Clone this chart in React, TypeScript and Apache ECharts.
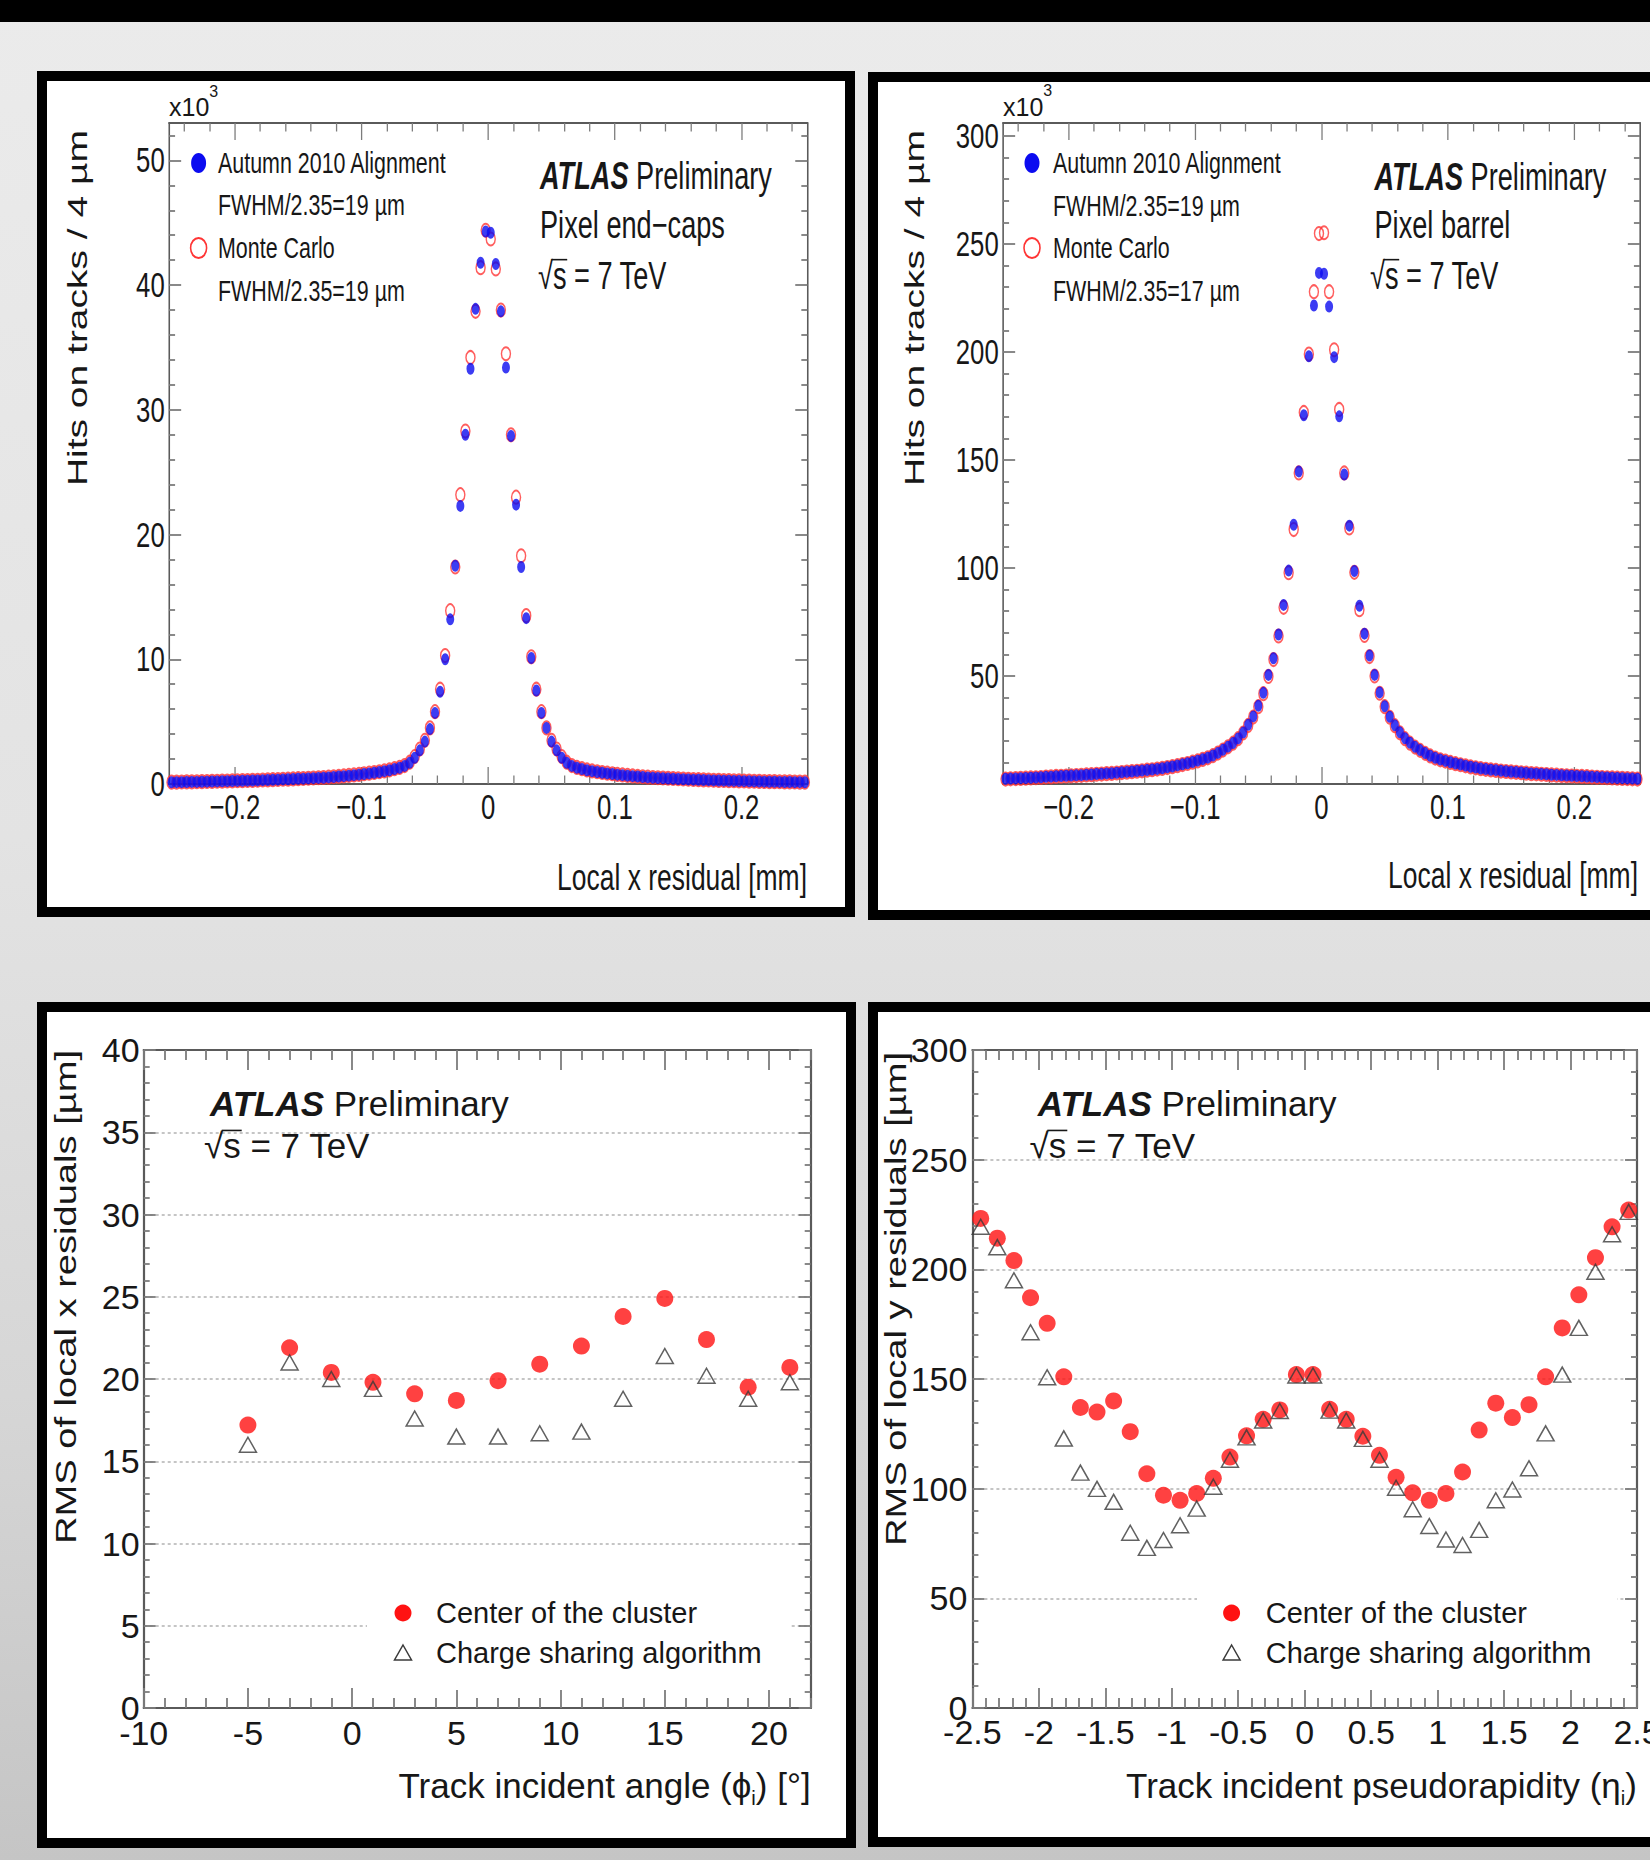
import React, { useEffect, useRef } from "react";
import * as echarts from "echarts";

const FONT = '"Liberation Sans", Arial, Helvetica, sans-serif';
const INK = "#171717";
const AXIS_LINE = "#5a5a5a";
const TICK = "#7c7c7c";
const GRID = "#b2b2b2";
const BLUE = "#0b0bf0";
const RED_RING = "#ff3434";
const RED_DOT = "#ff1212";
const TRIANGLE = "#3a3a3a";
const TOP_SQUEEZE = 0.715;
const FRAME_BORDER = 10;

// ---------------- top row: local x residual histograms (x10^3 hits per 4 um bin) ----------------
const residualBinLow = -0.252;
const residualBinWidth = 0.004;
const residualBinCount = 126;
const residualCenters = Array.from({ length: residualBinCount }, (_, i) =>
  +(residualBinLow + residualBinWidth * (i + 0.5)).toFixed(3)
);
const residualMajorTicks = [-0.2, -0.1, 0, 0.1, 0.2];
const residualMinorTicks = [
  -0.24, -0.22, -0.18, -0.16, -0.14, -0.12, -0.08, -0.06, -0.04, -0.02,
  0.02, 0.04, 0.06, 0.08, 0.12, 0.14, 0.16, 0.18, 0.22, 0.24,
];

// Pixel end-caps
const endcapYMax = 53;
const endcapYMajor = [0, 10, 20, 30, 40, 50];
const endcapYMinor = [2, 4, 6, 8, 12, 14, 16, 18, 22, 24, 26, 28, 32, 34, 36, 38, 42, 44, 46, 48, 52];
const endcapData = [
  0.14, 0.15, 0.15, 0.16, 0.17, 0.17, 0.18, 0.19, 0.2, 0.21,
  0.22, 0.23, 0.24, 0.25, 0.26, 0.27, 0.28, 0.29, 0.31, 0.32,
  0.34, 0.35, 0.37, 0.38, 0.4, 0.42, 0.43, 0.45, 0.47, 0.49,
  0.5, 0.53, 0.56, 0.6, 0.63, 0.67, 0.71, 0.75, 0.8, 0.85,
  0.9, 0.96, 1.03, 1.1, 1.2, 1.3, 1.45, 1.7, 2.1, 2.7,
  3.4, 4.4, 5.7, 7.4, 10.0, 13.2, 17.5, 22.3, 28.0, 33.3,
  38.1, 41.8, 44.3,
  44.2, 41.7, 37.9, 33.4, 27.9, 22.4, 17.4, 13.3, 10.1, 7.5,
  5.7, 4.5, 3.4, 2.7, 2.1, 1.7, 1.45, 1.3, 1.2, 1.1,
  1.03, 0.96, 0.9, 0.85, 0.8, 0.75, 0.71, 0.67, 0.63, 0.6,
  0.56, 0.53, 0.5, 0.48, 0.46, 0.44, 0.42, 0.4, 0.38, 0.37,
  0.35, 0.34, 0.32, 0.31, 0.29, 0.28, 0.27, 0.26, 0.25, 0.24,
  0.23, 0.22, 0.21, 0.2, 0.19, 0.18, 0.18, 0.17, 0.16, 0.16,
  0.15, 0.15, 0.14,
];
const endcapMC = [
  0.15, 0.15, 0.16, 0.17, 0.17, 0.18, 0.19, 0.2, 0.21, 0.22,
  0.23, 0.24, 0.25, 0.26, 0.27, 0.28, 0.29, 0.3, 0.32, 0.33,
  0.35, 0.36, 0.38, 0.39, 0.41, 0.43, 0.44, 0.46, 0.48, 0.5,
  0.52, 0.55, 0.58, 0.61, 0.65, 0.69, 0.73, 0.77, 0.82, 0.87,
  0.92, 0.98, 1.05, 1.13, 1.23, 1.33, 1.48, 1.75, 2.2, 2.8,
  3.5, 4.5, 5.8, 7.6, 10.3, 13.9, 17.4, 23.2, 28.3, 34.2,
  37.9, 41.4, 44.4,
  43.7, 41.3, 38.0, 34.5, 28.0, 23.0, 18.3, 13.5, 10.2, 7.6,
  5.8, 4.5, 3.5, 2.8, 2.2, 1.75, 1.48, 1.33, 1.23, 1.13,
  1.05, 0.98, 0.92, 0.87, 0.82, 0.77, 0.73, 0.69, 0.65, 0.61,
  0.58, 0.55, 0.52, 0.5, 0.48, 0.46, 0.44, 0.42, 0.4, 0.38,
  0.36, 0.35, 0.33, 0.32, 0.3, 0.29, 0.28, 0.27, 0.26, 0.25,
  0.24, 0.23, 0.22, 0.21, 0.2, 0.19, 0.19, 0.18, 0.17, 0.17,
  0.16, 0.15, 0.15,
];

// Pixel barrel
const barrelYMax = 306;
const barrelYMajor = [0, 50, 100, 150, 200, 250, 300];
const barrelYLabels = [50, 100, 150, 200, 250, 300];
const barrelYMinor = [
  10, 20, 30, 40, 60, 70, 80, 90, 110, 120, 130, 140, 160, 170, 180, 190,
  210, 220, 230, 240, 260, 270, 280, 290,
];
const barrelData = [
  2.4, 2.5, 2.6, 2.7, 2.8, 2.9, 3.0, 3.1, 3.3, 3.4,
  3.6, 3.7, 3.8, 3.9, 4.0, 4.1, 4.3, 4.4, 4.6, 4.7,
  4.9, 5.0, 5.2, 5.4, 5.6, 5.8, 6.0, 6.2, 6.5, 6.7,
  7.0, 7.3, 7.7, 8.1, 8.6, 9.1, 9.6, 10.2, 10.8, 11.5,
  12.2, 13.2, 14.4, 15.8, 17.3, 19.0, 21.1, 23.8, 27.4, 31.3,
  36.2, 42.2, 50.5, 58.2, 69.2, 82.9, 98.8, 120.0, 144.7, 170.7,
  198.0, 221.5, 236.6,
  236.2, 221.0, 197.6, 170.2, 143.3, 119.6, 98.6, 82.5, 69.6, 59.5,
  50.5, 42.4, 36.0, 31.1, 27.2, 23.9, 21.2, 19.1, 17.2, 15.7,
  14.3, 13.1, 12.1, 11.3, 10.7, 10.1, 9.5, 9.0, 8.5, 8.0,
  7.6, 7.2, 6.9, 6.6, 6.4, 6.1, 5.9, 5.7, 5.5, 5.3,
  5.1, 4.9, 4.8, 4.6, 4.5, 4.3, 4.2, 4.0, 3.9, 3.8,
  3.7, 3.6, 3.5, 3.3, 3.2, 3.1, 3.0, 2.9, 2.8, 2.7,
  2.6, 2.5, 2.4,
];
const barrelMC = [
  2.3, 2.4, 2.5, 2.6, 2.7, 2.8, 2.9, 3.0, 3.2, 3.3,
  3.5, 3.6, 3.7, 3.8, 3.9, 4.0, 4.2, 4.3, 4.5, 4.6,
  4.8, 4.9, 5.1, 5.3, 5.5, 5.7, 5.9, 6.1, 6.4, 6.6,
  6.9, 7.2, 7.6, 8.0, 8.5, 9.0, 9.5, 10.1, 10.7, 11.4,
  12.1, 13.1, 14.3, 15.7, 17.2, 18.9, 21.0, 23.6, 27.1, 31.0,
  35.8, 41.8, 49.8, 57.6, 68.5, 81.8, 97.8, 117.8, 144.0, 172.0,
  199.0, 227.9, 254.8,
  255.2, 227.9, 201.0, 173.4, 144.0, 118.5, 98.0, 80.7, 68.8, 59.0,
  50.0, 42.0, 35.8, 30.9, 27.0, 23.7, 21.0, 18.9, 17.1, 15.6,
  14.2, 13.0, 12.0, 11.2, 10.6, 10.0, 9.4, 8.9, 8.4, 7.9,
  7.5, 7.1, 6.8, 6.5, 6.3, 6.0, 5.8, 5.6, 5.4, 5.2,
  5.0, 4.8, 4.7, 4.5, 4.4, 4.2, 4.1, 3.9, 3.8, 3.7,
  3.6, 3.5, 3.4, 3.2, 3.1, 3.0, 2.9, 2.8, 2.7, 2.6,
  2.5, 2.4, 2.3,
];

// ---------------- bottom left: RMS of local x residuals vs incident angle ----------------
const phiAngles = [-5, -3, -1, 1, 3, 5, 7, 9, 11, 13, 15, 17, 19, 21];
const phiCenterOfCluster = [17.2, 21.9, 20.4, 19.8, 19.1, 18.7, 19.9, 20.9, 22.0, 23.8, 24.9, 22.4, 19.5, 20.7];
const phiChargeSharing = [16.0, 21.0, 20.0, 19.4, 17.6, 16.5, 16.5, 16.7, 16.8, 18.8, 21.4, 20.2, 18.8, 19.8];
const phiXMajor = [-10, -5, 0, 5, 10, 15, 20];
const phiXMinor = [
  -9, -8, -7, -6, -4, -3, -2, -1, 1, 2, 3, 4, 6, 7, 8, 9, 11, 12, 13, 14, 16, 17, 18, 19, 21, 22,
];

// ---------------- bottom right: RMS of local y residuals vs pseudorapidity ----------------
const etaBinLow = -2.5;
const etaBinWidth = 0.125;
const etaCenterOfCluster = [
  223.2, 214.2, 204.0, 187.1, 175.4, 151.0, 137.0, 134.9, 140.0, 126.0,
  106.8, 97.0, 94.7, 97.8, 104.7, 114.4, 124.1, 131.6, 135.9, 152.0,
  152.0, 136.2, 131.6, 123.9, 115.2, 105.2, 98.1, 94.7, 97.8, 107.6,
  126.7, 139.0, 132.4, 138.3, 151.0, 173.3, 188.4, 205.3, 219.4, 227.0,
];
const etaChargeSharing = [
  219.4, 210.1, 195.0, 171.3, 150.8, 122.9, 107.3, 99.9, 94.0, 79.9,
  73.0, 76.6, 83.3, 90.9, 100.9, 113.2, 123.4, 131.1, 135.4, 151.6,
  151.6, 135.6, 131.1, 122.7, 113.2, 100.4, 90.6, 83.0, 76.8, 74.3,
  81.2, 94.7, 99.6, 109.3, 125.2, 152.0, 173.3, 198.9, 216.0, 226.2,
];
const etaCenters = etaCenterOfCluster.map((_, i) => etaBinLow + etaBinWidth * (i + 0.5));

// ---------------- helpers ----------------
type Box = { l: number; t: number; r: number; b: number };
type Mapper = { X: (px: number) => number; Y: (py: number) => number; s: number };
type Look = { majorLen: number; minorLen: number; fontSize: number; margin: number };

let measureCtx: any = null;
function textWidth(text: string, size: number, weight = "normal", style = "normal") {
  if (!measureCtx) measureCtx = document.createElement("canvas").getContext("2d");
  measureCtx.font = `${style} ${weight} ${size}px "Liberation Sans", Arial, sans-serif`;
  return measureCtx.measureText(text).width;
}

function gridFromPage(m: Mapper, box: Box) {
  return {
    left: m.X(box.l),
    top: m.Y(box.t),
    width: m.X(box.r) - m.X(box.l),
    height: box.b - box.t,
    containLabel: false,
    outerBoundsMode: "none",
  };
}

const tickStyle = { color: TICK, width: 1.8 };
function lineOn() {
  return { show: true, onZero: false, lineStyle: { color: AXIS_LINE, width: 2.2 } };
}
function lineOff() {
  return { show: false, onZero: false };
}
function labelStyle(look: Look, extra: any = {}) {
  return { show: true, margin: look.margin, fontSize: look.fontSize, fontFamily: FONT, color: INK, ...extra };
}

function customAxisSet(
  dim: "x" | "y", min: number, max: number, majors: number[], minors: number[],
  labels: number[], fmt: (v: number) => string, look: Look
) {
  const [near, far] = dim === "x" ? ["bottom", "top"] : ["left", "right"];
  const base = { type: "value", min, max, splitLine: { show: false }, splitArea: { show: false } };
  const majorTick = { show: true, inside: true, length: look.majorLen, customValues: majors, lineStyle: tickStyle };
  const minorTick = { show: true, inside: true, length: look.minorLen, customValues: minors, lineStyle: tickStyle };
  return [
    { ...base, position: near, axisLine: lineOn(), axisTick: majorTick, axisLabel: labelStyle(look, { customValues: labels, formatter: fmt }) },
    { ...base, position: near, axisLine: lineOff(), axisTick: minorTick, axisLabel: { show: false } },
    { ...base, position: far, axisLine: lineOn(), axisTick: majorTick, axisLabel: { show: false } },
    { ...base, position: far, axisLine: lineOff(), axisTick: minorTick, axisLabel: { show: false } },
  ];
}

function regularAxisSet(dim: "x" | "y", min: number, max: number, interval: number, look: Look, withGrid: boolean) {
  const [near, far] = dim === "x" ? ["bottom", "top"] : ["left", "right"];
  const base = {
    type: "value", min, max, interval,
    axisLine: lineOn(),
    axisTick: { show: true, inside: true, length: look.majorLen, lineStyle: tickStyle },
    minorTick: { show: true, splitNumber: 5, length: look.minorLen, lineStyle: tickStyle },
    splitArea: { show: false },
  };
  return [
    {
      ...base, position: near, axisLabel: labelStyle(look),
      splitLine: withGrid
        ? { show: true, showMinLine: false, showMaxLine: false, lineStyle: { color: GRID, width: 1.6, type: [3, 3] } }
        : { show: false },
    },
    { ...base, position: far, axisLabel: { show: false }, splitLine: { show: false } },
  ];
}

const minusFmt = (v: number) => (v < 0 ? "\u2212" + String(Math.abs(v)) : String(v));
const plainFmt = (v: number) => String(v);

function txt(m: Mapper, px: number, py: number, text: string, size: number, extra: any = {}) {
  return {
    type: "text", x: m.X(px), y: m.Y(py), z: 6,
    style: { text, fontSize: size, fontFamily: FONT, fill: INK, align: "left", verticalAlign: "middle", ...extra },
  };
}

function atlasLabel(m: Mapper, px: number, py: number, size: number) {
  return {
    type: "text", x: m.X(px), y: m.Y(py), z: 6,
    style: {
      text: "{a|ATLAS} {b|Preliminary}", fontSize: size, fontFamily: FONT, fill: INK,
      align: "left", verticalAlign: "middle",
      rich: {
        a: { fontSize: size, fontFamily: FONT, fontWeight: "bold", fontStyle: "italic", fill: INK },
        b: { fontSize: size, fontFamily: FONT, fill: INK },
      },
    },
  };
}

function sqrtLabel(m: Mapper, px: number, py: number, size: number) {
  const x = m.X(px);
  const y = m.Y(py);
  const wRoot = textWidth("\u221A", size);
  const wRootS = textWidth("\u221As", size);
  const barY = y - size * 0.43;
  return [
    txt(m, px, py, "\u221As = 7 TeV", size),
    { type: "line", z: 6, shape: { x1: x + wRoot - 1.5, y1: barY, x2: x + wRootS + 1, y2: barY }, style: { stroke: INK, lineWidth: 1.6 } },
  ];
}

function yTitle(m: Mapper, pxCenter: number, pyTop: number, text: string, size: number, stretch = 1) {
  return {
    type: "text", x: m.X(pxCenter), y: m.Y(pyTop), rotation: Math.PI / 2, scaleX: stretch, z: 6,
    style: { text, fontSize: size, fontFamily: FONT, fill: INK, align: "right", verticalAlign: "middle" },
  };
}

function xTitleRich(m: Mapper, pxRight: number, py: number, before: string, sub: string, after: string, size: number) {
  return {
    type: "text", x: m.X(pxRight), y: m.Y(py), z: 6,
    style: {
      text: `{n|${before}}{s|${sub}}{n|${after}}`, fontSize: size, fontFamily: FONT, fill: INK,
      align: "right", verticalAlign: "middle",
      rich: {
        n: { fontSize: size, fontFamily: FONT, fill: INK, lineHeight: size + 10 },
        s: { fontSize: size * 0.58, fontFamily: FONT, fill: INK, lineHeight: size * 0.58, verticalAlign: "bottom" },
      },
    },
  };
}

// ---------------- top-row option ----------------
type ResidualSpec = {
  plot: Box; yMax: number; yMajor: number[]; yMinor: number[]; yLabels: number[];
  data: number[]; mc: number[]; expX: number; expY: number;
  legendMarkerX: number; legendTextX: number; legendRows: number[]; legendLabels: string[];
  atlasX: number; atlasRows: number[]; region: string; sqrtX: number;
  xTitleRight: number; xTitleY: number; yTitleX: number; yTitleTop: number;
};

function residualOption(m: Mapper, sp: ResidualSpec) {
  const s = m.s;
  const xLook = { majorLen: 17, minorLen: 8.5, fontSize: 36, margin: 5 };
  const yLook = { majorLen: 17, minorLen: 8.5, fontSize: 36, margin: 6 };
  const els: any[] = [];
  const expW = textWidth("x10", 25) / s;
  els.push({ type: "text", x: m.X(sp.expX), y: m.Y(sp.expY), scaleX: 1 / s, z: 6,
    style: { text: "x10", fontSize: 25, fontFamily: FONT, fill: INK, align: "left", verticalAlign: "middle" } });
  els.push({ type: "text", x: m.X(sp.expX) + expW, y: m.Y(sp.expY - 16), scaleX: 1 / s, z: 6,
    style: { text: "3", fontSize: 16, fontFamily: FONT, fill: INK, align: "left", verticalAlign: "middle" } });
  els.push({ type: "ellipse", z: 6, shape: { cx: m.X(sp.legendMarkerX), cy: m.Y(sp.legendRows[0]), rx: 7.5 / s, ry: 10 }, style: { fill: BLUE } });
  els.push({ type: "ellipse", z: 6, shape: { cx: m.X(sp.legendMarkerX), cy: m.Y(sp.legendRows[2]), rx: 8 / s, ry: 10 }, style: { fill: "none", stroke: RED_RING, lineWidth: 2.2 } });
  sp.legendRows.forEach((row, i) => els.push(txt(m, sp.legendTextX, row, sp.legendLabels[i], 30)));
  els.push(atlasLabel(m, sp.atlasX, sp.atlasRows[0], 38));
  els.push(txt(m, sp.atlasX, sp.atlasRows[1], sp.region, 38));
  sqrtLabel(m, sp.sqrtX, sp.atlasRows[2], 38).forEach((e) => els.push(e));
  els.push(txt(m, sp.xTitleRight, sp.xTitleY, "Local x residual [mm]", 37, { align: "right" }));
  els.push(yTitle(m, sp.yTitleX, sp.yTitleTop, "Hits on tracks / 4 \u00B5m", 39));

  return {
    animation: false,
    textStyle: { fontFamily: FONT },
    grid: gridFromPage(m, sp.plot),
    xAxis: customAxisSet("x", residualBinLow, -residualBinLow, residualMajorTicks, residualMinorTicks, residualMajorTicks, minusFmt, xLook),
    yAxis: customAxisSet("y", 0, sp.yMax, sp.yMajor, sp.yMinor, sp.yLabels, plainFmt, yLook),
    series: [
      {
        type: "scatter", name: "Monte Carlo", z: 2,
        data: residualCenters.map((x, i) => [x, sp.mc[i]]),
        symbol: "circle", symbolSize: [9 / s, 13],
        itemStyle: { color: "rgba(255,255,255,0)", borderColor: RED_RING, borderWidth: 2 },
      },
      {
        type: "scatter", name: "Autumn 2010 Alignment", z: 3,
        data: residualCenters.map((x, i) => [x, sp.data[i]]),
        symbol: "circle", symbolSize: [8 / s, 12],
        itemStyle: { color: BLUE },
      },
    ],
    graphic: { elements: els },
  };
}

function endcapOption(m: Mapper) {
  return residualOption(m, {
    plot: { l: 169, t: 123, r: 807.4, b: 784 },
    yMax: endcapYMax, yMajor: endcapYMajor, yMinor: endcapYMinor, yLabels: endcapYMajor,
    data: endcapData, mc: endcapMC, expX: 169, expY: 107.5,
    legendMarkerX: 198.6, legendTextX: 218, legendRows: [163, 205, 248, 290.6],
    legendLabels: ["Autumn 2010 Alignment", "FWHM/2.35=19 \u00B5m", "Monte Carlo", "FWHM/2.35=19 \u00B5m"],
    atlasX: 540, atlasRows: [176, 225, 276], region: "Pixel end\u2212caps", sqrtX: 538,
    xTitleRight: 807, xTitleY: 877, yTitleX: 77, yTitleTop: 130,
  });
}

function barrelOption(m: Mapper) {
  return residualOption(m, {
    plot: { l: 1003, t: 123, r: 1640, b: 784 },
    yMax: barrelYMax, yMajor: barrelYMajor, yMinor: barrelYMinor, yLabels: barrelYLabels,
    data: barrelData, mc: barrelMC, expX: 1003, expY: 107,
    legendMarkerX: 1032, legendTextX: 1053, legendRows: [163, 206, 248, 291],
    legendLabels: ["Autumn 2010 Alignment", "FWHM/2.35=19 \u00B5m", "Monte Carlo", "FWHM/2.35=17 \u00B5m"],
    atlasX: 1374.5, atlasRows: [177, 225, 276], region: "Pixel barrel", sqrtX: 1370,
    xTitleRight: 1638, xTitleY: 875, yTitleX: 914, yTitleTop: 130,
  });
}

// ---------------- bottom-row options ----------------
function legendBlock(m: Mapper, boxL: number, boxR: number, dotX: number, textX: number, rows: number[]) {
  const cx = m.X(dotX);
  const ty = m.Y(rows[1]);
  return [
    { type: "rect", z: 1, shape: { x: m.X(boxL), y: m.Y(1580), width: m.X(boxR) - m.X(boxL), height: 110 }, style: { fill: "#ffffff" } },
    { type: "circle", z: 6, shape: { cx, cy: m.Y(rows[0]), r: 8.5 }, style: { fill: RED_DOT } },
    { type: "polygon", z: 6, shape: { points: [[cx, ty - 8], [cx + 8.5, ty + 7], [cx - 8.5, ty + 7]] }, style: { fill: "none", stroke: TRIANGLE, lineWidth: 1.5 } },
    txt(m, textX, rows[0], "Center of the cluster", 29),
    txt(m, textX, rows[1], "Charge sharing algorithm", 29),
  ];
}

function phiOption(m: Mapper) {
  const plot = { l: 143.7, t: 1050, r: 810.7, b: 1708 };
  const xLook = { majorLen: 20, minorLen: 10, fontSize: 34, margin: 8 };
  const yLook = { majorLen: 12, minorLen: 6, fontSize: 34, margin: 4 };
  const els: any[] = [
    ...legendBlock(m, 367, 790, 403, 436, [1613, 1653]),
    atlasLabel(m, 210, 1103.5, 35),
    ...sqrtLabel(m, 204, 1145.5, 35),
    xTitleRich(m, 810.7, 1785, "Track incident angle (\u03D5", "i", ") [\u00B0]", 35),
    yTitle(m, 66, 1050, "RMS of local x residuals [\u00B5m]", 30, 1.27),
  ];
  return {
    animation: false,
    textStyle: { fontFamily: FONT },
    grid: gridFromPage(m, plot),
    xAxis: customAxisSet("x", -10, 22, phiXMajor, phiXMinor, phiXMajor, plainFmt, xLook),
    yAxis: regularAxisSet("y", 0, 40, 5, yLook, true),
    series: [
      {
        type: "scatter", name: "Center of the cluster", z: 2,
        data: phiAngles.map((x, i) => [x, phiCenterOfCluster[i]]),
        symbol: "circle", symbolSize: 17, itemStyle: { color: RED_DOT },
      },
      {
        type: "scatter", name: "Charge sharing algorithm", z: 3,
        data: phiAngles.map((x, i) => [x, phiChargeSharing[i]]),
        symbol: "triangle", symbolSize: [17, 15],
        itemStyle: { color: "rgba(255,255,255,0)", borderColor: TRIANGLE, borderWidth: 1.5 },
      },
    ],
    graphic: { elements: els },
  };
}

function etaOption(m: Mapper) {
  const plot = { l: 972.4, t: 1050, r: 1637, b: 1708 };
  const xLook = { majorLen: 20, minorLen: 10, fontSize: 34, margin: 7 };
  const yLook = { majorLen: 12, minorLen: 6, fontSize: 34, margin: 5 };
  const els: any[] = [
    ...legendBlock(m, 1197, 1617, 1231.6, 1265.8, [1613, 1653]),
    atlasLabel(m, 1037.8, 1103.5, 35),
    ...sqrtLabel(m, 1029.6, 1145.5, 35),
    xTitleRich(m, 1637, 1785, "Track incident pseudorapidity (\u03B7", "i", ")", 35),
    yTitle(m, 896, 1052, "RMS of local y residuals [\u00B5m]", 30, 1.27),
  ];
  return {
    animation: false,
    textStyle: { fontFamily: FONT },
    grid: gridFromPage(m, plot),
    xAxis: regularAxisSet("x", -2.5, 2.5, 0.5, xLook, false),
    yAxis: regularAxisSet("y", 0, 300, 50, yLook, true),
    series: [
      {
        type: "scatter", name: "Center of the cluster", z: 2,
        data: etaCenters.map((x, i) => [x, etaCenterOfCluster[i]]),
        symbol: "circle", symbolSize: 17, itemStyle: { color: RED_DOT },
      },
      {
        type: "scatter", name: "Charge sharing algorithm", z: 3,
        data: etaCenters.map((x, i) => [x, etaChargeSharing[i]]),
        symbol: "triangle", symbolSize: [17, 15],
        itemStyle: { color: "rgba(255,255,255,0)", borderColor: TRIANGLE, borderWidth: 1.5 },
      },
    ],
    graphic: { elements: els },
  };
}

// ---------------- panel component ----------------
function Panel({ frame, squeeze, build }: { frame: Box; squeeze: number; build: (m: Mapper) => any }) {
  const ref = useRef<HTMLDivElement>(null);
  const innerL = frame.l + FRAME_BORDER;
  const innerT = frame.t + FRAME_BORDER;
  const innerW = frame.r - frame.l - 2 * FRAME_BORDER;
  const innerH = frame.b - frame.t - 2 * FRAME_BORDER;
  const chartW = innerW / squeeze;
  useEffect(() => {
    if (!ref.current) return;
    const chart = echarts.init(ref.current, null, { renderer: "svg", width: chartW, height: innerH });
    const m: Mapper = { X: (px) => (px - innerL) / squeeze, Y: (py) => py - innerT, s: squeeze };
    chart.setOption(build(m));
    return () => chart.dispose();
  }, []);
  return (
    <div
      style={{
        position: "absolute", left: frame.l, top: frame.t,
        width: frame.r - frame.l, height: frame.b - frame.t,
        boxSizing: "border-box", border: `${FRAME_BORDER}px solid #000`,
        background: "#fff", overflow: "hidden",
      }}
    >
      <div
        ref={ref}
        style={{
          position: "absolute", left: 0, top: 0, width: chartW, height: innerH,
          transform: squeeze !== 1 ? `scaleX(${squeeze})` : undefined, transformOrigin: "0 0",
        }}
      />
    </div>
  );
}

export default function App() {
  return (
    <div
      style={{
        position: "absolute", left: 0, top: 0, width: 1650, height: 1860, overflow: "hidden",
        background: "linear-gradient(to bottom, #ebebeb 0%, #e3e3e3 45%, #d6d6d6 75%, #c5c5c5 100%)",
        fontFamily: FONT,
      }}
    >
      <div style={{ position: "absolute", left: 0, top: 0, width: 1650, height: 22, background: "#000" }} />
      <Panel frame={{ l: 37, t: 71, r: 855, b: 917 }} squeeze={TOP_SQUEEZE} build={endcapOption} />
      <Panel frame={{ l: 868, t: 72, r: 1660, b: 920 }} squeeze={TOP_SQUEEZE} build={barrelOption} />
      <Panel frame={{ l: 37, t: 1002, r: 856, b: 1848 }} squeeze={1} build={phiOption} />
      <Panel frame={{ l: 868, t: 1002, r: 1660, b: 1847 }} squeeze={1} build={etaOption} />
    </div>
  );
}
